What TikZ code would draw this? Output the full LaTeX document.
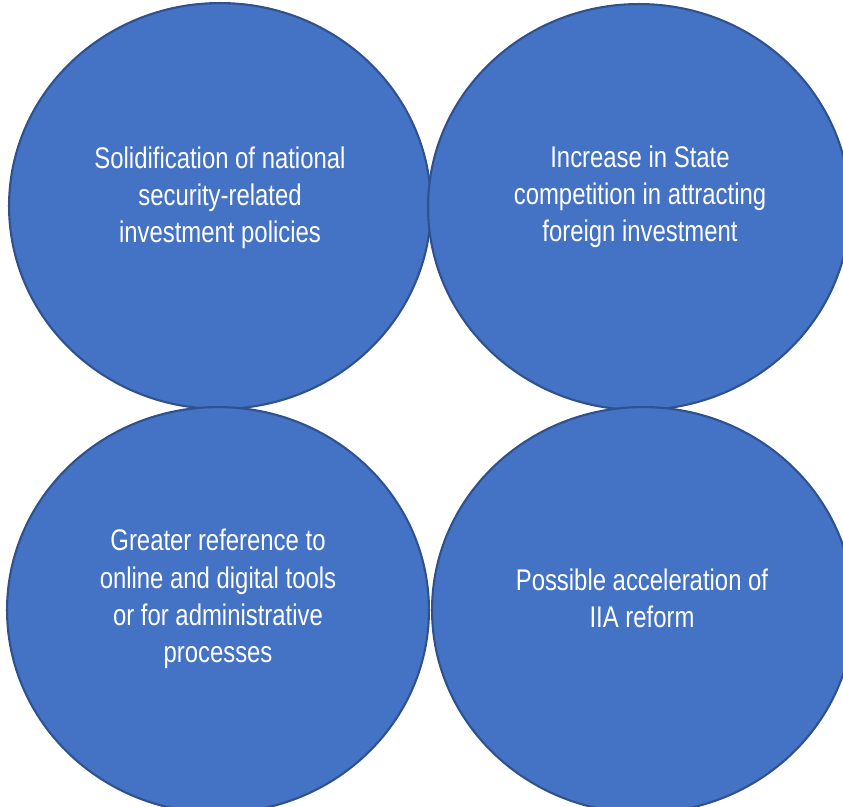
\documentclass[tikz,border=0pt]{standalone}
\usepackage{fontspec}
\setmainfont{Liberation Sans}[FakeStretch=0.80]
\usepackage{xcolor}
\usepackage{tikz}
\usetikzlibrary{shapes, positioning}

\definecolor{discfill}{HTML}{4472C4}
\definecolor{discedge}{HTML}{2F528F}

\begin{document}
\begin{tikzpicture}[
  x=0.02cm, y=-0.02cm,
  disc/.style={ellipse, draw=discedge, line width=1.2pt, fill=discfill,
               minimum width=8.44cm, minimum height=8.12cm, inner sep=0pt},
  disclbl/.style={text=white, align=center,
                  font=\fontsize{17}{21.2}\selectfont}
]
\useasboundingbox (0,0) rectangle (843,806);

% Top row
\node[disc] (d1) at (220,206) {};
\node[disc] (d2) at (639,207) {};

% Bottom row
\node[disc] (d3) at (218,610) {};
\node[disc] (d4) at (643,610) {};

% Labels, a little above each centre
\node[disclbl] (t1) at (220,198) {Solidification of national\\security-related\\investment policies};
\node[disclbl] (t2) at (640,197) {Increase in State\\competition in attracting\\foreign investment};
\node[disclbl] (t3) at (218,599) {Greater reference to\\online and digital tools\\or for administrative\\processes};
\node[disclbl] (t4) at (642,598) {Possible acceleration of\\IIA reform};

\end{tikzpicture}
\end{document}
